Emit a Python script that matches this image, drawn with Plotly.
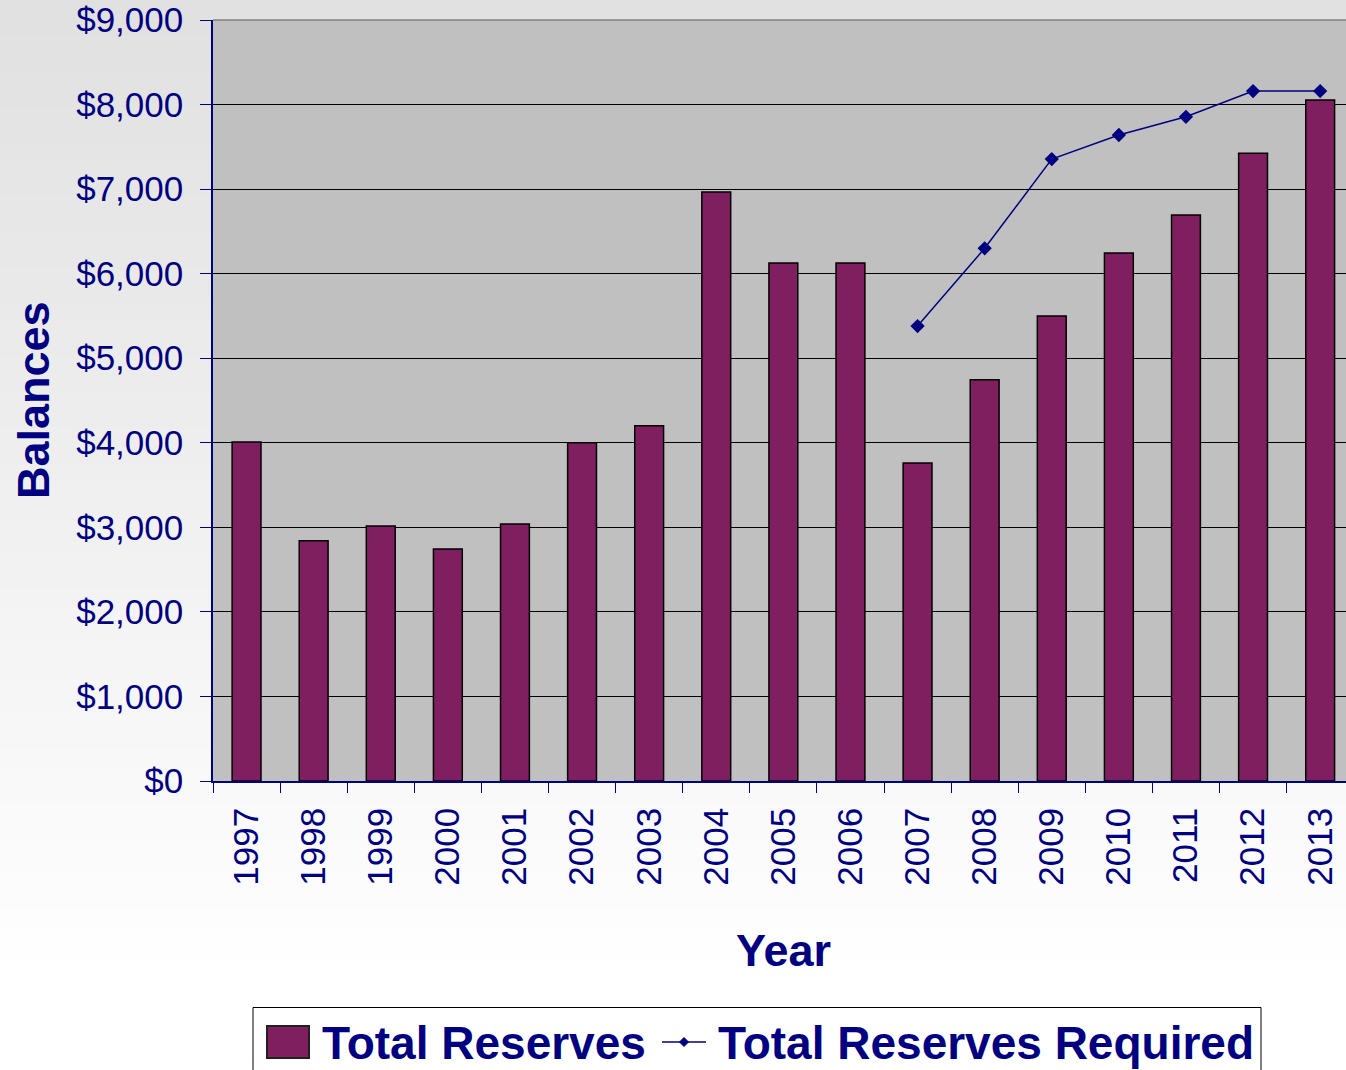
import plotly.graph_objects as go

years = ["1997", "1998", "1999", "2000", "2001", "2002", "2003", "2004", "2005",
         "2006", "2007", "2008", "2009", "2010", "2011", "2012", "2013"]
total_reserves = [4010, 2840, 3015, 2745, 3040, 4000, 4200, 6965, 6125,
                  6125, 3760, 4745, 5500, 6245, 6695, 7425, 8055]
required_years = ["2007", "2008", "2009", "2010", "2011", "2012", "2013"]
total_required = [5380, 6300, 7355, 7640, 7855, 8160, 8160]
y_ticks = [0, 1000, 2000, 3000, 4000, 5000, 6000, 7000, 8000, 9000]
y_tick_text = ["$0", "$1,000", "$2,000", "$3,000", "$4,000", "$5,000",
               "$6,000", "$7,000", "$8,000", "$9,000"]
series_names = ["Total Reserves", "Total Reserves Required"]

NAVY = "#000080"
BAR = "#801F60"
FONT = "Liberation Sans, Arial, sans-serif"

W, H = 1346, 1070
L, T, B = 213, 20, 289
plot_h = H - T - B
plot_w = W - L


def xp(px):
    return (px - L) / plot_w


def yp(py):
    return (H - B - py) / plot_h


fig = go.Figure()
fig.add_trace(go.Bar(
    x=years, y=total_reserves, name=series_names[0], width=0.43,
    marker=dict(color=BAR, line=dict(color="#000000", width=1.5)),
    showlegend=False,
))
fig.add_trace(go.Scatter(
    x=required_years, y=total_required, name=series_names[1],
    mode="lines+markers",
    line=dict(color=NAVY, width=1.5),
    marker=dict(symbol="diamond", size=11, color=NAVY),
    showlegend=False,
))

# background gradient (light gray at top to white at bottom)
shapes = []
n = 60
for i in range(n):
    f = i / (n - 1)
    c = int(225 + (255 - 225) * min(1.0, f * 1.1))
    py0 = H * i / n
    py1 = H * (i + 1) / n + 1
    shapes.append(dict(
        type="rect", xref="paper", yref="paper", layer="below",
        x0=xp(0), x1=1.0, y0=yp(py1), y1=yp(py0),
        fillcolor=f"rgb({c},{c},{c})", line=dict(width=0),
    ))
shapes.append(dict(type="rect", xref="paper", yref="paper", layer="below",
                   x0=0, x1=1, y0=0, y1=1, fillcolor="#C0C0C0",
                   line=dict(width=0)))
shapes.append(dict(type="line", xref="paper", yref="paper", layer="above",
                   x0=0, x1=1, y0=1, y1=1, line=dict(color="#808080", width=1.5)))

# legend (drawn manually to match the large symbols)
shapes.append(dict(type="rect", xref="paper", yref="paper", layer="above",
                   x0=xp(253), x1=xp(1261), y0=yp(1085), y1=yp(1007.5),
                   fillcolor="white", line=dict(color="black", width=1)))
shapes.append(dict(type="rect", xref="paper", yref="paper", layer="above",
                   x0=xp(267), x1=xp(309), y0=yp(1058), y1=yp(1026),
                   fillcolor=BAR, line=dict(color="#202020", width=2)))
shapes.append(dict(type="line", xref="paper", yref="paper", layer="above",
                   x0=xp(662), x1=xp(706), y0=yp(1042), y1=yp(1042),
                   line=dict(color=NAVY, width=1.5)))
d = 4.5
shapes.append(dict(type="path", xref="paper", yref="paper", layer="above",
                   path=(f"M {xp(684 - d)} {yp(1042)} L {xp(684)} {yp(1042 - d)} "
                         f"L {xp(684 + d)} {yp(1042)} L {xp(684)} {yp(1042 + d)} Z"),
                   fillcolor=NAVY, line=dict(color=NAVY, width=1)))

legend_font = dict(family=FONT, size=46, color=NAVY, weight="bold")

fig.update_layout(
    width=W, height=H,
    margin=dict(l=L, r=0, t=T, b=B),
    paper_bgcolor="white", plot_bgcolor="rgba(0,0,0,0)",
    shapes=shapes,
    showlegend=False,
    xaxis=dict(
        type="category", range=[-0.5, 16.385],
        tickson="boundaries", ticks="outside", ticklen=10, tickcolor=NAVY,
        tickwidth=1, showline=True, linecolor=NAVY, linewidth=1.5,
        showgrid=False, tickangle=-90, ticklabelstandoff=11,
        tickfont=dict(family=FONT, size=35, color=NAVY),
    ),
    yaxis=dict(
        range=[0, 9000], tickvals=y_ticks, ticktext=y_tick_text,
        ticks="outside", ticklen=11, tickcolor=NAVY, tickwidth=1,
        showline=True, linecolor=NAVY, linewidth=1.5,
        showgrid=True, gridcolor="black", gridwidth=1, zeroline=False,
        tickfont=dict(family=FONT, size=35, color=NAVY),
        ticklabelstandoff=10,
    ),
    annotations=[
        dict(text="Balances", xref="paper", yref="paper",
             x=xp(33), y=yp(400),
             xanchor="center", yanchor="middle", textangle=-90, showarrow=False,
             font=dict(family=FONT, size=45, color=NAVY, weight="bold")),
        dict(text="Year", xref="paper", yref="paper",
             x=xp(783), y=yp(950),
             xanchor="center", yanchor="middle", showarrow=False,
             font=dict(family=FONT, size=45, color=NAVY, weight="bold")),
        dict(text=series_names[0], xref="paper", yref="paper",
             x=xp(320), y=yp(1043), xanchor="left", yanchor="middle",
             showarrow=False, font=legend_font),
        dict(text=series_names[1], xref="paper", yref="paper",
             x=xp(716), y=yp(1043), xanchor="left", yanchor="middle",
             showarrow=False, font=legend_font),
    ],
)

fig.write_html("out.html", config={"displayModeBar": False},
               post_script="document.body.style.margin='0';")
